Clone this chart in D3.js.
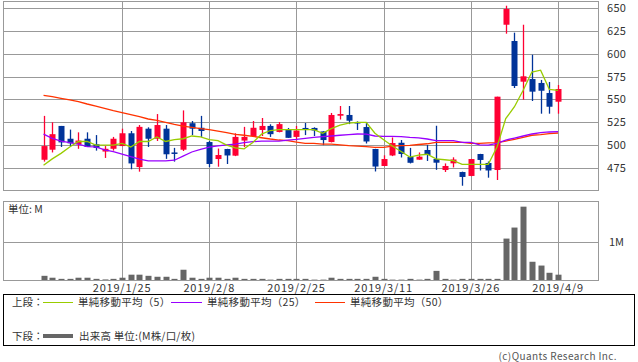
<!DOCTYPE html>
<html><head><meta charset="utf-8">
<script src="https://cdn.jsdelivr.net/npm/d3@7"></script>
<style>
body{margin:0;background:#fff}
svg{display:block}
text{font-family:"Noto Sans CJK JP","Noto Sans",sans-serif;fill:#333}
</style>
</head><body>
<svg id="c" width="638" height="362"></svg>
<script>
const dates = ["2019/1/11","2019/1/15","2019/1/16","2019/1/17","2019/1/18","2019/1/21","2019/1/22","2019/1/23","2019/1/24","2019/1/25",
"2019/1/28","2019/1/29","2019/1/30","2019/1/31","2019/2/1","2019/2/4","2019/2/5","2019/2/6","2019/2/7","2019/2/8",
"2019/2/12","2019/2/13","2019/2/14","2019/2/15","2019/2/18","2019/2/19","2019/2/20","2019/2/21","2019/2/22","2019/2/25",
"2019/2/26","2019/2/27","2019/2/28","2019/3/1","2019/3/4","2019/3/5","2019/3/6","2019/3/7","2019/3/8","2019/3/11",
"2019/3/12","2019/3/13","2019/3/14","2019/3/15","2019/3/18","2019/3/19","2019/3/20","2019/3/22","2019/3/25","2019/3/26",
"2019/3/27","2019/3/28","2019/3/29","2019/4/1","2019/4/2","2019/4/3","2019/4/4","2019/4/5","2019/4/8","2019/4/9"];

const open  = [484,495,521,507,501,507,501,493,496,499, 513,476,518,507,518,492,495,524,519,503.4,
484.8,495.8,488.5,505,510,516.6,521,514.4,516.6,509, 518.8,518.8,515,503.4,532.2,533,525.3,519.8,495.8,477.2,
488.7,502.6,487,484.1,494.7,484.8,472.8,480.1,470.6,466.3, 490.3,480.5,472.8,631.7,613.9,569.4,572.3,568,557,547.5];
const high  = [532,525,521,517,514,514,511,499,509,518, 515.5,522,519.5,534,522,497,538,526.4,532,504.5,
496.3,496,513,520,526.4,529.7,522.8,525.3,518.8,521, 524.2,519.5,515.2,535.2,542.8,542.8,526,525.3,496,488.9,
508.4,505.6,497,492,500.2,521.2,480,486.7,471,485, 490.5,482.1,553,652.5,623,631.7,598.9,571.3,569.1,565.8];
const low   = [482,492,498,499,496,498,494,486,494,499, 473.6,471,498,504.5,485,482,493.6,511,509,476,
476.4,479.4,488,498,509,510,509,514,508,505, 511,510,500,503,528,523,516.6,501.8,471.2,477,
488,486.5,480,484,482.7,473,470.6,475.6,455.6,466, 472.3,464.4,461.9,621.9,562.5,549.7,548.3,534.4,534.4,534.4];
const close = [499,512,503,502,505,498,497,496,507,513, 480,520,507,522,490,491,525,518,515.5,479.4,
489.2,488.7,509,509,519,521,512,523,508,516, 517.7,516,505.6,533,534,526.7,525,504,476.6,484.8,
502.3,490.3,480.7,487.4,489.2,480.8,477.2,484.3,465.2,484.8, 483.8,472.3,553,648.9,564.7,575.3,558.5,559.5,542,561.4];

// volume in millions of shares
const volume = [0.11,0.06,0.03,0.03,0.06,0.06,0.03,0.015,0.03,0.06, 0.14,0.14,0.11,0.085,0.085,0.03,0.27,0.06,0.03,0.06,
0.06,0.03,0.06,0.03,0.03,0.03,0.01,0.03,0.03,0.03, 0.03,0.01,0.01,0.06,0.03,0.03,0.03,0.03,0.085,0.03,
0.01,0.01,0.03,0.01,0.03,0.24,0.03,0.01,0.03,0.03, 0.03,0.03,0.03,1.09,1.38,1.93,0.48,0.38,0.19,0.14];

const ma5  = [478,485,491,498,504,504,500,500,500,502, 498,504,504,509,504,506,507,510,509,506,
505,500,497,496,503,512,516,517,517,517, 517,517,513,518,522,524,525,525,513,506,
499,493,487,489,490,485,484,483,479,479, 479,479,498,529,542,560,580,582,561,560];
const ma25 = [512,507.5,504.5,502.7,501.2,498.3,498,494.7,492.8,490.3, 487.4,484.8,482.7,482.7,482.7,483.5,488,492.5,495.5,497.8,
499.2,500.2,501.2,502.7,503.8,504.5,504.5,504.5,505.6,506.4, 507.5,508.6,509.3,510,510.8,511.5,512.2,512,510,509.5,
509.5,509.3,508.5,508,506.7,505,505,505,503,503, 500.2,500,502,505.6,507.8,510,512.2,513.6,514.4,514.7];
const ma50 = [554.5,553,551.2,549.4,547.5,545,542.8,540.3,537.7,535.5, 533.3,531.1,528.6,527.2,525,522.8,520.9,519.5,518,517,
515.3,513.6,511.8,510.8,509.7,508.1,506.7,505.6,504.9,503.4, 502,502,501.2,501.2,500.2,499.4,499,498.3,497.6,497.6,
499,499.4,499.8,500.7,501.5,503,503,503,503,502, 502,502.5,502.7,504.5,506.4,508.6,510.8,511.5,512.6,513.3];

const priceTicks = [475,500,525,550,575,600,625,650];
const dateTicks = ["2019/1/25","2019/2/8","2019/2/25","2019/3/11","2019/3/26","2019/4/9"];
const volTicks = [1];
const volTickLabels = ["1M"];

const svg = d3.select("#c");
const L = 3.5, R = 598.5;
const pTop = 1.5, pBot = 190.5;
const vTop = 201.5, vBot = 280.5;
const gridCol = "#999";

const x = d3.scaleBand().domain(dates).range([4.3, 597.3]).paddingInner(0).paddingOuter(4);
const cx = d => x(d) + x.bandwidth()/2;
const y = d3.scaleLinear().domain([475,650]).range([168,8]);
const yv = d3.scaleLinear().domain([0,1]).range([280,242]);

// price panel grid
const gp = svg.append("g");
gp.selectAll("line.h").data(priceTicks).join("line")
  .attr("x1",L).attr("x2",R).attr("y1",d=>Math.round(y(d))+0.5).attr("y2",d=>Math.round(y(d))+0.5)
  .attr("stroke",gridCol).attr("stroke-width",1);
gp.selectAll("line.v").data(dateTicks).join("line")
  .attr("x1",d=>Math.round(cx(d))+0.5).attr("x2",d=>Math.round(cx(d))+0.5).attr("y1",pTop).attr("y2",pBot)
  .attr("stroke",gridCol);
gp.append("rect").attr("x",L).attr("y",pTop).attr("width",R-L).attr("height",pBot-pTop)
  .attr("fill","none").attr("stroke",gridCol);

// price labels
svg.selectAll("text.pt").data(priceTicks).join("text")
  .attr("x",607).attr("y",d=>y(d)).attr("dy","0.36em").attr("font-size",11)
  .attr("letter-spacing",0.3)
  .text(d=>d);

// candles
const idx = d3.range(dates.length);
const up = i => close[i] >= open[i];
const red = "#ff0033", blue = "#003399";
const gc = svg.append("g");
gc.selectAll("line.w").data(idx).join("line")
  .attr("x1",i=>Math.round(cx(dates[i]))+0.5).attr("x2",i=>Math.round(cx(dates[i]))+0.5)
  .attr("y1",i=>y(high[i])).attr("y2",i=>y(low[i]))
  .attr("stroke",i=>up(i)?red:blue).attr("stroke-width",1.3);
gc.selectAll("rect.b").data(idx).join("rect")
  .attr("x",i=>Math.round(cx(dates[i]))-2.5).attr("width",6)
  .attr("y",i=>y(Math.max(open[i],close[i])))
  .attr("height",i=>Math.max(1.5, Math.abs(y(open[i])-y(close[i]))))
  .attr("fill",i=>up(i)?red:blue);

// moving averages
const line = arr => d3.line().x((d,i)=>cx(dates[i])).y(d=>y(d))(arr);
svg.append("path").attr("d",line(ma50)).attr("fill","none").attr("stroke","#ff3300").attr("stroke-width",1.3);
svg.append("path").attr("d",line(ma25)).attr("fill","none").attr("stroke","#9900ff").attr("stroke-width",1.3);
svg.append("path").attr("d",line(ma5)).attr("fill","none").attr("stroke","#99cc00").attr("stroke-width",1.3);

// volume panel
const gv = svg.append("g");
gv.selectAll("line.h").data(volTicks).join("line")
  .attr("x1",L).attr("x2",R).attr("y1",d=>Math.round(yv(d))+0.5).attr("y2",d=>Math.round(yv(d))+0.5)
  .attr("stroke",gridCol);
gv.selectAll("line.v").data(dateTicks).join("line")
  .attr("x1",d=>Math.round(cx(d))+0.5).attr("x2",d=>Math.round(cx(d))+0.5).attr("y1",vTop).attr("y2",vBot)
  .attr("stroke",gridCol);
gv.selectAll("rect.v").data(idx).join("rect")
  .attr("x",i=>Math.round(cx(dates[i]))-2.5).attr("width",6)
  .attr("y",i=>yv(volume[i])).attr("height",i=>yv(0)-yv(volume[i]))
  .attr("fill","#666");
gv.append("rect").attr("x",L).attr("y",vTop).attr("width",R-L).attr("height",vBot-vTop)
  .attr("fill","none").attr("stroke",gridCol);
svg.selectAll("text.vt").data(volTicks).join("text")
  .attr("x",609).attr("y",d=>yv(d)).attr("dy","0.36em").attr("font-size",11)
  .text((d,i)=>volTickLabels[i]);
svg.append("text").attr("x",8).attr("y",213).attr("font-size",10.5).text("単位: M");

// date labels
svg.selectAll("text.dt").data(dateTicks).join("text")
  .attr("x",d=>cx(d)).attr("y",292).attr("text-anchor","middle").attr("font-size",11)
  .attr("letter-spacing",0.8)
  .text(d=>d);

// legend
svg.append("rect").attr("x",3.5).attr("y",294.5).attr("width",631).attr("height",51)
  .attr("fill","none").attr("stroke","#000");
const lg = svg.append("g");
lg.append("text").attr("x",12).attr("y",306).attr("font-size",10.5).text("上段：");
const items = [
  {c:"#99cc00", x1:43, x2:73, tx:78, t:"単純移動平均（5）"},
  {c:"#9900ff", x1:171, x2:202, tx:207, t:"単純移動平均（25）"},
  {c:"#ff3300", x1:315, x2:345, tx:350, t:"単純移動平均（50）"}
];
items.forEach(it=>{
  lg.append("line").attr("x1",it.x1).attr("x2",it.x2).attr("y1",302.5).attr("y2",302.5).attr("stroke",it.c).attr("stroke-width",1);
  lg.append("text").attr("x",it.tx).attr("y",306).attr("font-size",10.5).attr("letter-spacing",0.3).text(it.t);
});
lg.append("text").attr("x",12).attr("y",340).attr("font-size",10.5).text("下段：");
lg.append("line").attr("x1",43).attr("x2",73).attr("y1",336).attr("y2",336).attr("stroke","#666").attr("stroke-width",4);
lg.append("text").attr("x",79).attr("y",340).attr("font-size",10.5).attr("letter-spacing",0.2).text("出来高 単位:(M株/口/枚)");

svg.append("text").attr("x",617).attr("y",360).attr("text-anchor","end").attr("font-size",10)
  .attr("letter-spacing",0.4)
  .style("fill","#555").text("(c)Quants Research Inc.");
</script>
</body></html>
